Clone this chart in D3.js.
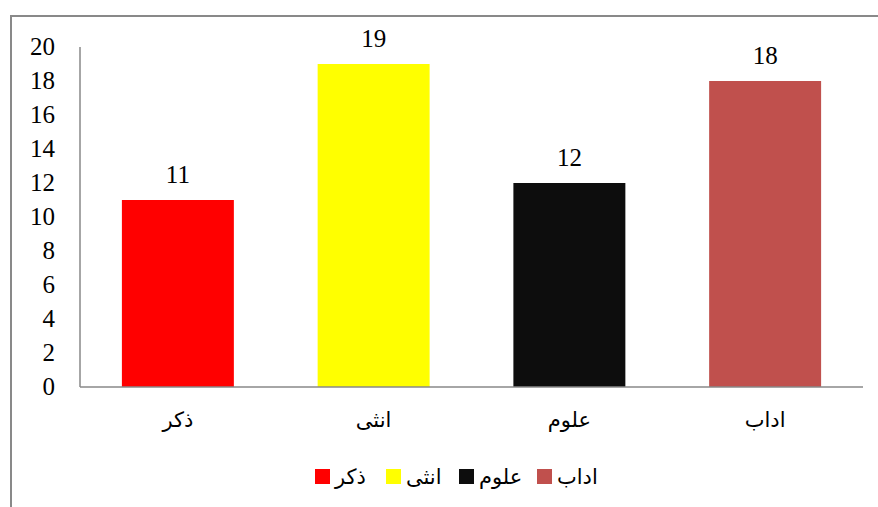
<!DOCTYPE html>
<html>
<head>
<meta charset="utf-8">
<script src="https://cdn.jsdelivr.net/npm/d3@7"></script>
<style>
  body { margin: 0; background: #fff; }
  #chart { width: 878px; height: 507px; }
  .num { font-family: "Liberation Serif", "DejaVu Serif", serif; font-size: 25px; fill: #000; }
  .ar { font-family: "DejaVu Sans", sans-serif; font-size: 21px; fill: #000; }
</style>
</head>
<body>
<div id="chart"></div>
<script>
// data
const categories = ["ذكر", "انثى", "علوم", "اداب"];
const values = [11, 19, 12, 18];
const colors = ["#ff0000", "#ffff00", "#0d0d0d", "#c0504d"];
const yTicks = [0, 2, 4, 6, 8, 10, 12, 14, 16, 18, 20];

const width = 878, height = 507;
const margin = { top: 47, left: 80, right: 15, bottom: 120 };

const svg = d3.select("#chart").append("svg")
  .attr("width", width)
  .attr("height", height);

// outer frame
svg.append("rect")
  .attr("x", 11).attr("y", 16)
  .attr("width", width + 20).attr("height", height + 20)
  .attr("fill", "none")
  .attr("stroke", "#898989")
  .attr("stroke-width", 2);

const xScale = d3.scaleBand()
  .domain(categories)
  .range([margin.left, width - margin.right])
  .paddingInner(0.428)
  .paddingOuter(0.214);

const yScale = d3.scaleLinear()
  .domain([0, 20])
  .range([height - margin.bottom, margin.top]);

// y axis line
svg.append("line")
  .attr("x1", margin.left).attr("x2", margin.left)
  .attr("y1", yScale(20)).attr("y2", yScale(0))
  .attr("stroke", "#898989").attr("stroke-width", 1.5);

// y tick labels
svg.selectAll(".ytick")
  .data(yTicks)
  .enter()
  .append("text")
  .attr("class", "num")
  .attr("x", 55)
  .attr("y", d => yScale(d) + 8)
  .attr("text-anchor", "end")
  .text(d => d);

// bars
svg.selectAll(".bar")
  .data(values)
  .enter()
  .append("rect")
  .attr("class", "bar")
  .attr("x", (d, i) => xScale(categories[i]))
  .attr("y", d => yScale(d))
  .attr("width", xScale.bandwidth())
  .attr("height", d => yScale(0) - yScale(d))
  .attr("fill", (d, i) => colors[i]);

// x axis line
svg.append("line")
  .attr("x1", margin.left).attr("x2", width - margin.right)
  .attr("y1", yScale(0)).attr("y2", yScale(0))
  .attr("stroke", "#898989").attr("stroke-width", 1.5);

// value labels
svg.selectAll(".val")
  .data(values)
  .enter()
  .append("text")
  .attr("class", "num")
  .attr("x", (d, i) => xScale(categories[i]) + xScale.bandwidth() / 2)
  .attr("y", d => yScale(d) - 17)
  .attr("text-anchor", "middle")
  .text(d => d);

// category labels
svg.selectAll(".cat")
  .data(categories)
  .enter()
  .append("text")
  .attr("class", "ar")
  .attr("x", d => xScale(d) + xScale.bandwidth() / 2)
  .attr("y", 427)
  .attr("text-anchor", "middle")
  .text(d => d);

// legend
const legendX = [315, 386, 459, 537];
const legend = svg.append("g").attr("class", "legend");

legend.selectAll("rect")
  .data(categories)
  .enter()
  .append("rect")
  .attr("x", (d, i) => legendX[i])
  .attr("y", 469)
  .attr("width", 15)
  .attr("height", 15)
  .attr("fill", (d, i) => colors[i]);

legend.selectAll("text")
  .data(categories)
  .enter()
  .append("text")
  .attr("class", "ar")
  .attr("x", (d, i) => legendX[i] + 20)
  .attr("y", 484)
  .attr("text-anchor", "start")
  .text(d => d);
</script>
</body>
</html>
